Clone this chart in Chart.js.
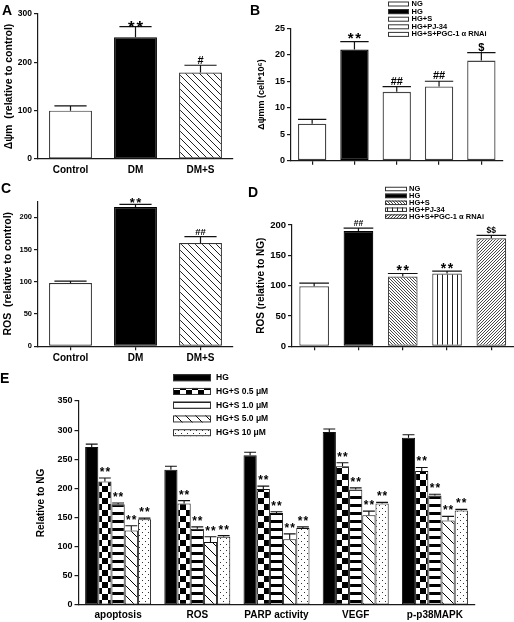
<!DOCTYPE html>
<html><head><meta charset="utf-8">
<script src="https://cdn.jsdelivr.net/npm/chart.js@4"></script>
<style>
html,body{margin:0;padding:0;background:#fff;}
#wrap{position:relative;width:514px;height:622px;overflow:hidden;background:#fff;}
canvas{position:absolute;left:0;top:0;}
.lt{position:absolute;font:bold 14px 'Liberation Sans',Arial,sans-serif;line-height:14px;color:#000;z-index:5;}
</style></head><body><div id="wrap">
<canvas id="cA" width="514" height="622"></canvas>
<canvas id="cB" width="514" height="622"></canvas>
<canvas id="cC" width="514" height="622"></canvas>
<canvas id="cD" width="514" height="622"></canvas>
<canvas id="cE" width="514" height="622"></canvas>
<div class="lt" style="left:2px;top:3px">A</div>
<div class="lt" style="left:250px;top:3px">B</div>
<div class="lt" style="left:1px;top:181px">C</div>
<div class="lt" style="left:248px;top:185px">D</div>
<div class="lt" style="left:0px;top:371px">E</div>
</div>
<script>
// ---------- DATA ----------
const catsA = ['Control', 'DM', 'DM+S'];
const valsA = [100, 252, 179];
const errA = [10, 22, 15];
const sigA = ['', '**', '#'];

const catsB = ['NG', 'HG', 'HG+S', 'HG+PJ-34', 'HG+S+PGC-1 α RNAi'];
const valsB = [7, 21, 13, 14, 18.9];
const errB = [0.8, 1.5, 1.0, 1.0, 1.5];
const sigB = ['', '**', '##', '##', '$'];

const catsC = ['Control', 'DM', 'DM+S'];
const valsC = [98, 216, 160];
const errC = [3, 4, 10];
const sigC = ['', '**', '##'];

const catsD = ['NG', 'HG', 'HG+S', 'HG+PJ-34', 'HG+S+PGC-1 α RNAi'];
const valsD = [99, 190, 115, 120, 178];
const errD = [5, 5, 5, 4, 5];
const sigD = ['', '##', '**', '**', '$$'];

const groupsE = ['apoptosis', 'ROS', 'PARP activity', 'VEGF', 'p-p38MAPK'];
const seriesE = ['HG', 'HG+S 0.5 μM', 'HG+S 1.0 μM', 'HG+S 5.0 μM', 'HG+S 10 μM'];
const hgE   = [271, 232, 257, 297, 287];
const s05E  = [212, 174, 199, 238, 230];
const s10E  = [173, 131, 158, 198, 188];
const s50E  = [128, 108, 113, 154, 145];
const s100E = [147, 117, 132, 174, 162];
const errHgE   = [5, 6, 5, 5, 5];
const errS05E  = [6, 5, 5, 6, 6];
const errS10E  = [2, 3, 2, 3, 2];
const errS50E  = [8, 9, 9, 7, 7];
const errS100E = [2, 2, 2, 2, 2];
const sigE = ['', '**', '**', '**', '**'];

// ---------- HELPERS ----------
const F = "'Liberation Sans', Arial, Helvetica, sans-serif";
const AX = '#1a1a1a';

function mkPattern(ctx, w, h, draw) {
  const c = document.createElement('canvas'); c.width = w; c.height = h;
  const g = c.getContext('2d');
  g.fillStyle = '#fff'; g.fillRect(0, 0, w, h);
  g.fillStyle = '#000'; g.strokeStyle = '#000';
  draw(g, w, h);
  return ctx.createPattern(c, 'repeat');
}
function diagBack(ctx, s, lw, col) {
  return mkPattern(ctx, s, s, g => {
    g.strokeStyle = col; g.lineWidth = lw; g.beginPath();
    g.moveTo(-1, -1); g.lineTo(s + 1, s + 1);
    g.moveTo(-1, s - 1); g.lineTo(1, s + 1);
    g.moveTo(s - 1, -1); g.lineTo(s + 1, 1);
    g.stroke();
  });
}
function diagFwd(ctx, s, lw, col) {
  return mkPattern(ctx, s, s, g => {
    g.strokeStyle = col; g.lineWidth = lw; g.beginPath();
    g.moveTo(-1, s + 1); g.lineTo(s + 1, -1);
    g.moveTo(-1, 1); g.lineTo(1, -1);
    g.moveTo(s - 1, s + 1); g.lineTo(s + 1, s - 1);
    g.stroke();
  });
}

function errBarsPlugin(o) {
  return {
    id: 'errBars',
    afterDatasetsDraw(chart) {
      const ctx = chart.ctx, ys = chart.scales.y;
      chart.data.datasets.forEach((ds, di) => {
        chart.getDatasetMeta(di).data.forEach((bar, i) => {
          const v = ds.data[i], e = ds.err[i];
          const x = bar.x, w = bar.width;
          const y0 = ys.getPixelForValue(v), y1 = ys.getPixelForValue(v + e);
          ctx.save();
          ctx.strokeStyle = '#111'; ctx.lineWidth = o.lw;
          ctx.beginPath(); ctx.moveTo(x, y0); ctx.lineTo(x, y1);
          const hw = w * o.cap / 2;
          ctx.moveTo(x - hw, y1); ctx.lineTo(x + hw, y1); ctx.stroke();
          const s = ds.sig ? ds.sig[i] : '';
          if (s) {
            const star = s.indexOf('*') >= 0;
            const fs = star ? o.starSize : o.hashSize;
            ctx.font = 'bold ' + fs + 'px ' + F;
            const sp = star ? o.starSpace : 0;
            ctx.letterSpacing = sp + 'px';
            ctx.fillStyle = '#000'; ctx.textAlign = 'center'; ctx.textBaseline = 'alphabetic';
            const by = star ? y1 - o.starGap + 0.42 * fs : y1 - o.hashGap;
            ctx.fillText(s, x + sp / 2, by);
          }
          ctx.restore();
        });
      });
    }
  };
}

function legendPlugin(o) {
  return {
    id: 'boxLegend',
    afterDraw(chart) {
      const ctx = chart.ctx;
      ctx.save();
      ctx.font = 'bold ' + o.size + 'px ' + F;
      ctx.textBaseline = 'middle'; ctx.textAlign = 'left';
      o.items.forEach((it, i) => {
        const yc = o.y + i * o.dy;
        ctx.fillStyle = it.fill;
        ctx.fillRect(o.x, yc - o.bh / 2, o.bw, o.bh);
        ctx.strokeStyle = '#333'; ctx.lineWidth = 1;
        ctx.strokeRect(o.x + 0.5, yc - o.bh / 2 + 0.5, o.bw - 1, o.bh - 1);
        ctx.fillStyle = '#000';
        ctx.fillText(it.label, o.x + o.bw + o.gap, yc);
      });
      ctx.restore();
    }
  };
}

function axisY(o) {
  return {
    min: 0, max: o.max,
    afterBuildTicks: s => { s.ticks = s.ticks.filter(t => t.value % o.step === 0); },
    ticks: { stepSize: o.step, color: '#000', font: { family: F, size: o.tick, weight: 'bold' }, padding: 2 },
    grid: { drawOnChartArea: false, drawTicks: true, tickLength: 4, color: AX, lineWidth: 1.2 },
    border: { display: true, color: AX, width: 1.2 },
    title: { display: true, text: o.title, color: '#000', font: { family: F, size: o.tsize, weight: 'bold' }, padding: 0 },
    afterFit: s => { s.width = o.w; }
  };
}
function axisX(o) {
  return {
    type: 'category', offset: true,
    ticks: { display: o.labels, color: '#000', font: { family: F, size: o.size || 10, weight: 'bold' }, padding: o.pad || 0, maxRotation: 0, minRotation: 0, autoSkip: false },
    grid: { display: true, drawOnChartArea: false, drawTicks: o.ticks, tickLength: 4, color: AX, lineWidth: 1.2, offset: o.gridOffset || false },
    border: { display: true, color: AX, width: 1.2 },
    afterFit: s => { s.height = o.h; }
  };
}
function baseOpts(pad, x, y) {
  return {
    responsive: false, animation: false, events: [],
    layout: { padding: pad },
    plugins: { legend: { display: false }, tooltip: { enabled: false } },
    scales: { x: x, y: y }
  };
}

// ---------- PANEL A ----------
(function () {
  const ctx = document.getElementById('cA').getContext('2d');
  const hatch = diagBack(ctx, 7, 1, '#222');
  const fills = ['#fff', '#000', hatch];
  new Chart(ctx, {
    type: 'bar',
    data: { labels: catsA, datasets: [{ data: valsA, err: errA, sig: sigA, backgroundColor: fills, borderColor: ['#333', '#000', '#333'], borderWidth: 1.2, borderSkipped: false, barPercentage: 0.66, categoryPercentage: 1 }] },
    options: baseOpts({ left: 3, top: 14, right: 281, bottom: 443 },
      axisX({ labels: true, ticks: false, h: 20, pad: 5, size: 10 }),
      axisY({ max: 300, step: 100, tick: 8.5, title: 'Δψm  (relative to control)', tsize: 10.5, w: 35 })),
    plugins: [errBarsPlugin({ lw: 1.2, cap: 0.75, starSize: 17, starSpace: 2, hashSize: 11, starGap: 1, hashGap: 1.5 })]
  });
})();

// ---------- PANEL B ----------
(function () {
  const ctx = document.getElementById('cB').getContext('2d');
  const fills = ['#fff', '#000', '#fff', '#fff', '#fff'];
  new Chart(ctx, {
    type: 'bar',
    data: { labels: catsB, datasets: [{ data: valsB, err: errB, sig: sigB, backgroundColor: fills, borderColor: ['#444', '#000', '#444', '#444', '#444'], borderWidth: 1.3, borderSkipped: false, barPercentage: 0.67, categoryPercentage: 1 }] },
    options: baseOpts({ left: 256.5, top: 28.3, right: 11.5, bottom: 451.3 },
      axisX({ labels: false, ticks: true, h: 10 }),
      axisY({ max: 25, step: 5, tick: 9, title: 'Δψmm (cell*10⁶)', tsize: 9, w: 34.5 })),
    plugins: [
      errBarsPlugin({ lw: 1.2, cap: 1.0, starSize: 15, starSpace: 1.5, hashSize: 11, starGap: 5, hashGap: 2 }),
      legendPlugin({ x: 388, y: 4, dy: 7.6, bw: 21, bh: 5, gap: 2.5, size: 7.5, items: catsB.map((c, i) => ({ label: c, fill: fills[i] })) })
    ]
  });
})();

// ---------- PANEL C ----------
(function () {
  const ctx = document.getElementById('cC').getContext('2d');
  const hatch = diagBack(ctx, 7, 1, '#222');
  const fills = ['#fff', '#000', hatch];
  new Chart(ctx, {
    type: 'bar',
    data: { labels: catsC, datasets: [{ data: valsC, err: errC, sig: sigC, backgroundColor: fills, borderColor: ['#333', '#000', '#333'], borderWidth: 1.2, borderSkipped: false, barPercentage: 0.66, categoryPercentage: 1 }] },
    options: baseOpts({ left: 2, top: 201.2, right: 281, bottom: 255.7 },
      axisX({ labels: true, ticks: true, h: 20, pad: 2, size: 10 }),
      axisY({ max: 225, step: 50, tick: 7.5, title: 'ROS  (relative to control)', tsize: 10.5, w: 36 })),
    plugins: [errBarsPlugin({ lw: 1.2, cap: 0.75, starSize: 13, starSpace: 1.5, hashSize: 9.5, starGap: 3, hashGap: 2 })]
  });
})();

// ---------- PANEL D ----------
(function () {
  const ctx = document.getElementById('cD').getContext('2d');
  const hs = diagBack(ctx, 3, 0.9, '#333');
  const vert = mkPattern(ctx, 5, 1, g => { g.fillStyle = '#222'; g.fillRect(2, 0, 1, 1); });
  const rn = diagFwd(ctx, 3, 0.9, '#333');
  const fills = ['#fff', '#000', hs, vert, rn];
  new Chart(ctx, {
    type: 'bar',
    data: { labels: catsD, datasets: [{ data: valsD, err: errD, sig: sigD, backgroundColor: fills, borderColor: ['#444', '#000', '#444', '#444', '#444'], borderWidth: 1.2, borderSkipped: false, barPercentage: 0.67, categoryPercentage: 1 }] },
    options: baseOpts({ left: 255, top: 225, right: 0.5, bottom: 265.7 },
      axisX({ labels: false, ticks: true, h: 10 }),
      axisY({ max: 200, step: 50, tick: 9.5, title: 'ROS (relative to NG)', tsize: 10, w: 37 })),
    plugins: [
      errBarsPlugin({ lw: 1.2, cap: 1.0, starSize: 14, starSpace: 1.5, hashSize: 8.5, starGap: 4, hashGap: 2 }),
      legendPlugin({ x: 385, y: 189, dy: 6.9, bw: 22, bh: 4.5, gap: 2, size: 7.5, items: catsD.map((c, i) => ({ label: c, fill: fills[i] })) })
    ]
  });
})();

// ---------- PANEL E ----------
(function () {
  const ctx = document.getElementById('cE').getContext('2d');
  const checker = mkPattern(ctx, 12, 12, g => { g.fillRect(0, 0, 6, 6); g.fillRect(6, 6, 6, 6); });
  const stripes = mkPattern(ctx, 4, 8, g => { g.fillRect(0, 0, 4, 3); });
  const diag = diagBack(ctx, 10, 1, '#000');
  const dots = mkPattern(ctx, 6, 6, g => { g.fillStyle = '#333'; g.fillRect(1, 1, 1, 1); g.fillRect(4, 4, 1, 1); });
  const fills = ['#000', checker, stripes, diag, dots];
  const vals = [hgE, s05E, s10E, s50E, s100E];
  const errs = [errHgE, errS05E, errS10E, errS50E, errS100E];
  const datasets = seriesE.map((s, k) => ({
    label: s, data: vals[k], err: errs[k], sig: groupsE.map(() => sigE[k]),
    backgroundColor: fills[k], borderColor: '#111', borderWidth: 1, borderSkipped: false,
    barPercentage: 1, categoryPercentage: 0.833
  }));
  new Chart(ctx, {
    type: 'bar',
    data: { labels: groupsE, datasets: datasets },
    options: baseOpts({ left: 35, top: 401, right: 39.5, bottom: 0 },
      axisX({ labels: true, ticks: false, h: 17, pad: 4, size: 10 }),
      axisY({ max: 350, step: 50, tick: 9, title: 'Relative to NG', tsize: 10, w: 43.5 })),
    plugins: [
      errBarsPlugin({ lw: 1.1, cap: 0.9, starSize: 12, starSpace: 1, hashSize: 10, starGap: 7, hashGap: 2 }),
      legendPlugin({ x: 173, y: 377.7, dy: 13.75, bw: 38, bh: 7, gap: 5, size: 8.5, items: seriesE.map((s, k) => ({ label: s, fill: fills[k] })) })
    ]
  });
})();
</script>
</body></html>
